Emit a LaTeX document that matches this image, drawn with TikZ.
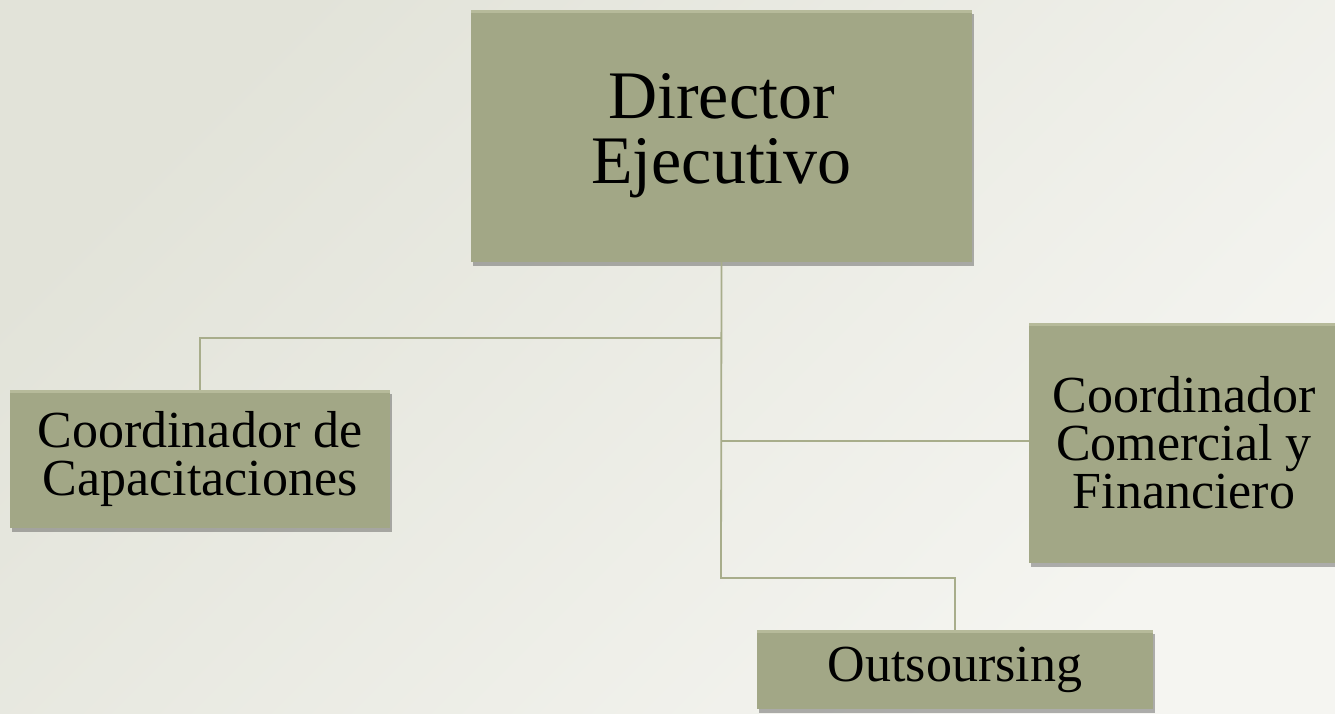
\documentclass[tikz,border=0pt]{standalone}
\usepackage{fontspec}
\setmainfont{Liberation Serif}
\usetikzlibrary{shadows}
\definecolor{bgdark}{HTML}{E2E3D9}
\definecolor{bglight}{HTML}{F5F5F1}
\definecolor{boxfill}{HTML}{A2A786}
\definecolor{boxtop}{HTML}{B6BA9A}
\definecolor{linecol}{HTML}{A8AD8B}
\tikzset{
  orgbox/.style={draw=none, fill=boxfill, inner sep=0pt, align=center,
    drop shadow={shadow xshift=2pt, shadow yshift=-4pt, opacity=0.4, fill=black!75},
    path picture={\fill[boxtop] (path picture bounding box.north west) rectangle ([yshift=-3pt]path picture bounding box.north east);}},
  bigtext/.style={font=\fontsize{68}{65}\selectfont},
  midtext/.style={font=\fontsize{52}{48}\selectfont},
  conn/.style={draw=linecol, line width=1.8pt}
}
\begin{document}
\begin{tikzpicture}[x=1pt, y=-1pt]
\useasboundingbox (0,0) rectangle (1335,713);
\shade[top color=bgdark, bottom color=bglight, shading angle=45] (0,0) rectangle (1335,713);

\coordinate (j1) at (721,338);
\coordinate (j2) at (721,441);
\coordinate (j3) at (721,578);

\node[orgbox, bigtext, minimum width=501pt, minimum height=252pt] (dir) at (721.5,136) {Director\\Ejecutivo};
\node[orgbox, midtext, minimum width=380pt, minimum height=138pt] (cap) at (200,459) {Coordinador de\\Capacitaciones};
\node[orgbox, midtext, minimum width=310pt, minimum height=240pt] (com) at (1184,443) {Coordinador\\Comercial y\\Financiero};
\node[orgbox, midtext, minimum width=396pt, minimum height=79pt] (out) at (955,669.5) {Outsoursing};

\draw[conn] (dir.south) -- (j3) -| (out.north);
\draw[conn] (j1) -| (cap.north);
\draw[conn] (j2) -- (com.west |- j2);
\end{tikzpicture}
\end{document}
